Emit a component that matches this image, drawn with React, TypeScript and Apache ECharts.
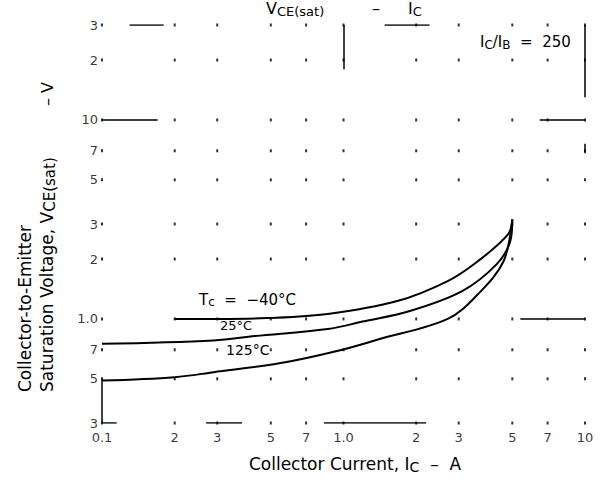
import React, { useEffect, useRef } from "react";
import * as echarts from "echarts";

const xTicks = [0.1, 0.2, 0.3, 0.5, 0.7, 1, 2, 3, 5, 7, 10];
const xTickLabels = ["0.1", "2", "3", "5", "7", "1.0", "2", "3", "5", "7", "10"];
const yTicks = [0.3, 0.5, 0.7, 1, 2, 3, 5, 7, 10, 20, 30];
const yTickLabels = ["3", "5", "7", "1.0", "2", "3", "5", "7", "10", "2", "3"];

// Collector current (A) / VCE(sat) (V)
const curveMinus40 = [
  [0.2, 1.0], [0.3, 1.0], [0.48, 1.01], [0.86, 1.06], [1.67, 1.23],
  [2.7, 1.55], [3.6, 1.95], [4.8, 2.66], [5.0, 3.16],
];
const curve25 = [
  [0.1, 0.75], [0.29, 0.78], [0.43, 0.82], [0.86, 0.89], [1.2, 0.97],
  [1.9, 1.1], [3.1, 1.38], [4.3, 1.88], [4.9, 2.45], [5.0, 3.16],
];
const curve125 = [
  [0.1, 0.49], [0.2, 0.51], [0.29, 0.54], [0.55, 0.6], [0.94, 0.69],
  [1.4, 0.79], [2.7, 1.0], [3.6, 1.33], [4.6, 1.95], [5.0, 3.16],
];

// remnants of the printed grid that survived the scan
const gridFragments = [
  [[0.13, 30], [0.18, 30]],
  [[1.48, 30], [2.27, 30]],
  [[1, 30], [1, 18]],
  [[10, 30], [10, 13]],
  [[10, 7.6], [10, 6.8]],
  [[0.1, 10], [0.17, 10]],
  [[6.5, 10], [10, 10]],
  [[5.4, 1], [10, 1]],
  [[0.1, 0.5], [0.1, 0.3]],
  [[0.1, 0.3], [0.115, 0.3]],
  [[0.27, 0.3], [0.38, 0.3]],
  [[0.83, 0.3], [2.2, 0.3]],
];

const FONT = "DejaVu Sans";

export default function App() {
  const ref = useRef<HTMLDivElement>(null);
  useEffect(() => {
    if (!ref.current) return;
    const chart = echarts.init(ref.current, null, { renderer: "svg" });
    const dots: number[][] = [];
    xTicks.forEach((x) => yTicks.forEach((y) => dots.push([x, y])));
    const curveStyle = { color: "#000", width: 2 };
    const sub = (size: number, drop: number) => ({
      fontSize: size, padding: [drop, 0, 0, 0], fontFamily: FONT, fill: "#000",
    });
    chart.setOption({
      animation: false,
      backgroundColor: "#fff",
      grid: { left: 102, right: 27, top: 25, bottom: 61 },
      xAxis: {
        type: "log", logBase: 10, min: 0.1, max: 10,
        axisLine: { show: false }, axisTick: { show: false },
        axisLabel: { show: false }, splitLine: { show: false }, minorSplitLine: { show: false },
      },
      yAxis: {
        type: "log", logBase: 10, min: 0.3, max: 30,
        axisLine: { show: false }, axisTick: { show: false },
        axisLabel: { show: false }, splitLine: { show: false }, minorSplitLine: { show: false },
      },
      series: [
        {
          type: "scatter", data: dots, symbol: "rect", symbolSize: [2, 3],
          itemStyle: { color: "#000" }, silent: true,
        },
        {
          type: "lines", coordinateSystem: "cartesian2d", silent: true,
          data: gridFragments.map((c) => ({ coords: c })),
          lineStyle: { color: "#000", width: 1.5, opacity: 1 },
        },
        { type: "line", data: curveMinus40, showSymbol: false, smooth: 0.35, lineStyle: curveStyle, silent: true },
        { type: "line", data: curve25, showSymbol: false, smooth: 0.35, lineStyle: curveStyle, silent: true },
        { type: "line", data: curve125, showSymbol: false, smooth: 0.35, lineStyle: curveStyle, silent: true },
        {
          type: "scatter", symbolSize: 0, silent: true, clip: false,
          data: xTicks.map((x, i) => ({ value: [x, 0.3], name: xTickLabels[i] })),
          label: {
            show: true, position: "bottom", distance: 8, formatter: "{b}",
            color: "#000", fontSize: 13, fontFamily: FONT,
          },
        },
        {
          type: "scatter", symbolSize: 0, silent: true, clip: false,
          data: yTicks.map((y, i) => ({ value: [0.1, y], name: yTickLabels[i] })),
          label: {
            show: true, position: "left", distance: 4, formatter: "{b}",
            color: "#000", fontSize: 13, fontFamily: FONT,
          },
        },
      ],
      graphic: [
        {
          type: "text", left: 266, top: 0,
          style: {
            text: "V{s|CE(sat)}", font: `16px "${FONT}"`, fill: "#000",
            rich: { s: sub(13, 6) },
          },
        },
        {
          type: "text", left: 372, top: 0,
          style: { text: "–", font: `16px "${FONT}"`, fill: "#000" },
        },
        {
          type: "text", left: 408, top: 0,
          style: {
            text: "I{s|C}", font: `16px "${FONT}"`, fill: "#000",
            rich: { s: sub(13, 6) },
          },
        },
        {
          type: "text", left: 480, top: 34,
          style: {
            text: "I{s|C}/I{s|B}  =  250",
            font: `15px "${FONT}"`, fill: "#000",
            rich: { s: sub(12, 6) },
          },
        },
        {
          type: "text", x: 355, y: 464,
          style: {
            text: "Collector Current, I{s|C}  –  A",
            font: `17px "${FONT}"`, fill: "#000", align: "center", verticalAlign: "middle",
            rich: { s: sub(14, 6) },
          },
        },
        {
          type: "text", x: 25, y: 392, rotation: Math.PI / 2,
          style: {
            text: "Collector-to-Emitter",
            font: `17px "${FONT}"`, fill: "#000", align: "left", verticalAlign: "middle",
          },
        },
        {
          type: "text", x: 47, y: 392, rotation: Math.PI / 2,
          style: {
            text: "Saturation Voltage, V{s|CE(sat)}",
            font: `17px "${FONT}"`, fill: "#000", align: "left", verticalAlign: "middle",
            rich: { s: sub(15, 6) },
          },
        },
        {
          type: "text", x: 47, y: 82, rotation: Math.PI / 2,
          style: {
            text: "– V",
            font: `16px "${FONT}"`, fill: "#000", align: "right", verticalAlign: "middle",
          },
        },
        {
          type: "text", left: 199, top: 292,
          style: {
            text: "T{s|c}  =  −40°C", font: `15px "${FONT}"`, fill: "#000",
            rich: { s: sub(12, 5) },
          },
        },
        {
          type: "text", left: 220, top: 319,
          style: { text: "25°C", font: `13px "${FONT}"`, fill: "#000" },
        },
        {
          type: "text", left: 226, top: 343,
          style: { text: "125°C", font: `14px "${FONT}"`, fill: "#000" },
        },
      ],
    });
    return () => chart.dispose();
  }, []);
  return <div ref={ref} style={{ width: 612, height: 484, position: "absolute", left: 0, top: 0 }} />;
}
